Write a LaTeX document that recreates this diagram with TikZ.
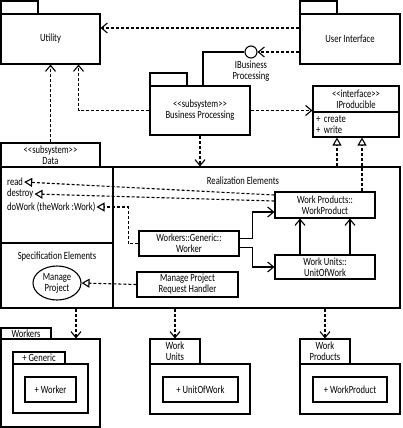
\documentclass[tikz,border=0pt]{standalone}
\usepackage{fontspec}
\setmainfont{Carlito}[FakeStretch=0.78]
\usetikzlibrary{arrows.meta,shapes.geometric}

\begin{document}
\begin{tikzpicture}[x=1pt, y=-1pt,
    every node/.style={font=\fontsize{11}{11}\selectfont, inner sep=1pt},
    box/.style={draw, line width=1.1pt},
    dep/.style={line width=1.1pt, dash pattern=on 3pt off 2pt, -{Straight Barb[length=6pt,width=10pt]}},
    real/.style={line width=1.1pt, dash pattern=on 3pt off 2pt, -{Triangle[open,length=8pt,width=9pt]}},
    assoc/.style={line width=1.1pt, -{Straight Barb[length=6pt,width=10pt]}}]

    \useasboundingbox (0,0) rectangle (402,428);

    % Utility package
    \draw[box] (1,1) rectangle (38,14);
    \node[box, minimum width=99pt, minimum height=50pt] (util) at (50.5,39) {Utility};

    % User Interface package
    \draw[box] (300,1) rectangle (337,14);
    \node[box, minimum width=100pt, minimum height=50pt] (ui) at (350,39) {User Interface};

    % provided interface (lollipop)
    \node[draw, circle, line width=1.1pt, minimum size=12pt, inner sep=0pt] (ibp) at (251,52) {};
    \node[align=center] (ibplbl) at (251,71) {IBusiness\\Processing};

    % Business Processing subsystem
    \draw[box] (150,73) rectangle (187,86);
    \node[box, minimum width=100pt, minimum height=49pt, align=center] (bp) at (200,110.5) {<{}<subsystem>{}>\\Business Processing};

    % IProducible interface
    \node[box, minimum width=86pt, minimum height=26pt, align=center] (ipname) at (356,99) {<{}<interface>{}>\\IProducible};
    \node[box, text width=80pt, inner xsep=3pt, minimum height=25pt, align=left] (ipops) at (356,124.5) {+ create\\+ write};

    % Data subsystem with its compartments
    \node[box, minimum width=99pt, minimum height=24pt, align=center] (datahd) at (50.5,155) {<{}<subsystem>{}>\\Data};
    \node[box, minimum width=399pt, minimum height=141pt] (datafr) at (200.5,237.5) {};
    \draw[box] (113,167) -- (113,308);
    \draw[box] (1,243) -- (113,243);

    \node[anchor=west] (rd) at (6,182) {read};
    \node[anchor=west] (ds) at (6,194) {destroy};
    \node[anchor=west] (dw) at (6,207) {doWork (theWork :Work)};
    \node (spec) at (57,257) {Specification Elements};
    \node[box, ellipse, minimum width=48pt, minimum height=34pt, align=center, inner sep=0pt] (mp) at (57,283) {Manage\\Project};
    \node (realz) at (243,181) {Realization Elements};

    % realization classes
    \node[box, minimum width=100pt, minimum height=26pt, align=center] (wp) at (325,205) {Work Products::\\WorkProduct};
    \node[box, minimum width=100pt, minimum height=24pt, align=center] (wu) at (325,267) {Work Units::\\UnitOfWork};
    \node[box, minimum width=100pt, minimum height=25pt, align=center] (wk) at (189,243.5) {Workers::Generic::\\Worker};
    \node[box, minimum width=101pt, minimum height=25pt, align=center] (mph) at (187.5,284.5) {Manage Project\\Request Handler};

    % Workers package
    \node[box, minimum width=50pt, minimum height=11pt, inner sep=0pt] (wktab) at (26,333.5) {Workers};
    \node[box, minimum width=99pt, minimum height=88pt] (wkpkg) at (50.5,383) {};
    \node[box, minimum width=52pt, minimum height=12pt, inner sep=0pt] (gentab) at (39,358) {+ Generic};
    \node[box, minimum width=75pt, minimum height=49pt] (genpkg) at (50.5,388.5) {};
    \node[box, minimum width=51pt, minimum height=25pt] (wkcls) at (50.5,389.5) {+ Worker};

    % Work Units package
    \node[box, minimum width=50pt, minimum height=25pt, align=center] (wutab) at (175,351.5) {Work\\Units};
    \node[box, minimum width=100pt, minimum height=50pt] (wupkg) at (200,389) {};
    \node[box, minimum width=75pt, minimum height=25pt] (uow) at (200.5,389.5) {+ UnitOfWork};

    % Work Products package
    \node[box, minimum width=50pt, minimum height=25pt, align=center] (wptab) at (325,351.5) {Work\\Products};
    \node[box, minimum width=100pt, minimum height=50pt] (wppkg) at (350,389) {};
    \node[box, minimum width=74pt, minimum height=25pt] (wprod) at (350,389.5) {+ WorkProduct};

    % dependencies
    \draw[dep] ([yshift=11pt]ui.west) -- ([yshift=11pt]util.east);
    \draw[dep] (ui.west |- ibp.east) -- (ibp.east);
    \draw[box] (ibp.west) -| ([xshift=3pt]bp.north);
    \draw[dep] (bp.west) -| ([xshift=28pt]util.south);
    \draw[dep] (datahd.north) -- (util.south);
    \draw[dep] (bp.east) -- (bp.east -| ipname.west);
    \draw[dep] (bp.south) -- (bp.south |- datafr.north);

    % realizations
    \draw[real] ([xshift=-19pt]ipops.south |- datafr.north) -- ([xshift=-19pt]ipops.south);
    \draw[real] ([xshift=37pt]wp.north) -- ([xshift=6pt]ipops.south);
    \draw[real] ([yshift=10pt]wp.west) -- (rd.east);
    \draw[real] ([yshift=4pt]wp.west) -- (ds.east);
    \draw[real] (wk.west) -- ++(-10,0) |- (dw.east);
    \draw[real] (mph.west) -- (mp.east);

    % associations
    \draw[assoc] ([yshift=5pt]wk.east) -- ++(13,0) |- ([yshift=-7pt]wp.west);
    \draw[assoc] ([yshift=-4pt]wk.east) -- ++(13,0) |- (wu.west);
    \foreach \dx in {-25,25}
        \draw[assoc] ([xshift=\dx pt]wu.north) -- ([xshift=\dx pt]wp.south);

    % dependencies on the packages below
    \draw[dep] ([xshift=25.5pt]wkpkg.north |- datafr.south) -- ([xshift=25.5pt]wkpkg.north);
    \draw[dep] (wutab.north |- datafr.south) -- (wutab.north);
    \draw[dep] (wptab.north |- datafr.south) -- (wptab.north);

\end{tikzpicture}
\end{document}
